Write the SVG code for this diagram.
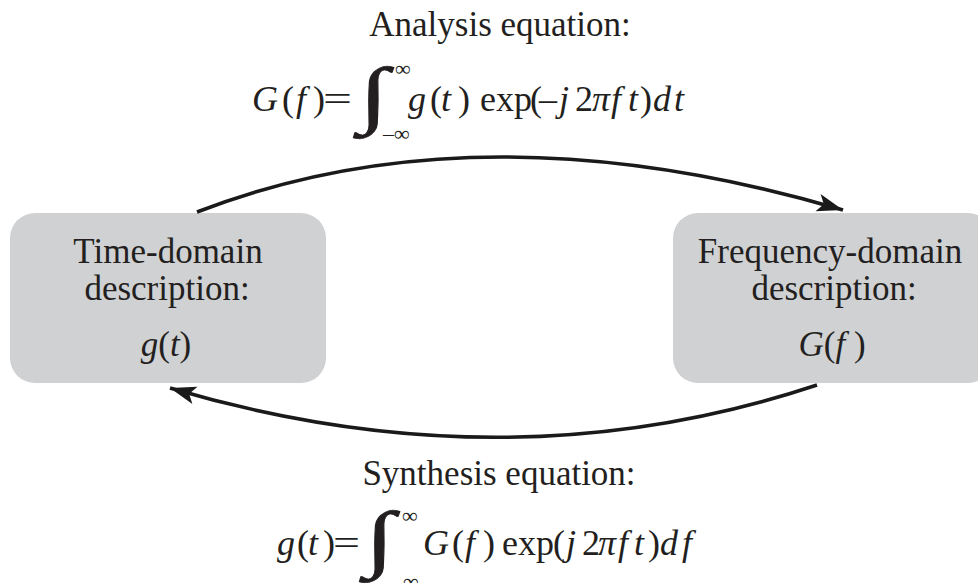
<svg xmlns="http://www.w3.org/2000/svg" width="978" height="583" viewBox="0 0 978 583">
<style>
.t{font-family:"Liberation Serif","Times New Roman",serif;fill:#231f20}
.lab{font-size:35px;text-anchor:middle}
.eq{font-size:36px}
.i{font-style:italic}
.sm{font-size:22px}
.int{font-size:74px;stroke:#231f20;stroke-width:0.8}
.box{fill:#d0d1d3}
.arc{fill:none;stroke:#1a1a1a;stroke-width:3.5}
</style>
<defs>
<marker id="ah" markerUnits="userSpaceOnUse" markerWidth="30" markerHeight="24" viewBox="0 0 30 24" refX="26" refY="12" orient="auto">
<path d="M0,3 L26,12 L0,21 L6,12 Z" fill="#1a1a1a"/>
</marker>
</defs>
<rect width="978" height="583" fill="#fff"/>
<g id="time-domain">
<rect class="box" x="10" y="213" width="316" height="170" rx="25"/>
<text class="t lab" x="168" y="263">Time-domain</text>
<text class="t lab" x="167" y="300">description:</text>
<text class="t lab" x="166" y="356"><tspan class="i">g</tspan>(<tspan class="i">t</tspan>)</text>
</g>
<g id="frequency-domain">
<rect class="box" x="673" y="213" width="320" height="170" rx="25"/>
<text class="t lab" x="830" y="263">Frequency-domain</text>
<text class="t lab" x="834" y="300">description:</text>
<text class="t lab" x="832" y="356"><tspan class="i">G</tspan>(<tspan class="i">f</tspan> )</text>
</g>
<g id="connectors">
<path class="arc" d="M197,212 Q479,103 843,210" marker-end="url(#ah)"/>
<path class="arc" d="M817,385 Q507,488 170,388" marker-end="url(#ah)"/>
</g>
<g id="analysis-label">
<text class="t lab" x="500" y="36">Analysis equation:</text>
<text class="t eq" y="111"><tspan x="252" class="i">G</tspan><tspan x="282">(</tspan><tspan x="296" class="i">f</tspan><tspan x="313">)</tspan><tspan x="408" class="i">g</tspan><tspan x="430">(</tspan><tspan x="441" class="i">t</tspan><tspan x="458">)</tspan><tspan x="480">exp</tspan><tspan x="530">(</tspan><tspan x="539">–</tspan><tspan x="559" class="i">j</tspan><tspan x="575">2</tspan><tspan x="592" class="i">π</tspan><tspan x="611" class="i">f</tspan><tspan x="628" class="i">t</tspan><tspan x="640">)</tspan><tspan x="653" class="i">d</tspan><tspan x="674" class="i">t</tspan></text>
<text class="t eq" x="323" y="111" textLength="29" lengthAdjust="spacingAndGlyphs">=</text>
<text class="t int" transform="translate(359,119) scale(1.45,1)">∫</text>
<text class="t sm" x="395" y="76">∞</text>
<text class="t sm" x="383" y="141">–∞</text>
</g>
<g id="synthesis-label">
<text class="t lab" x="499" y="485">Synthesis equation:</text>
<text class="t eq" y="555"><tspan x="277" class="i">g</tspan><tspan x="297">(</tspan><tspan x="308" class="i">t</tspan><tspan x="323">)</tspan><tspan x="423" class="i">G</tspan><tspan x="452">(</tspan><tspan x="465" class="i">f</tspan><tspan x="483">)</tspan><tspan x="502">exp</tspan><tspan x="553">(</tspan><tspan x="566" class="i">j</tspan><tspan x="582">2</tspan><tspan x="598" class="i">π</tspan><tspan x="618" class="i">f</tspan><tspan x="634" class="i">t</tspan><tspan x="648">)</tspan><tspan x="660" class="i">d</tspan><tspan x="682" class="i">f</tspan></text>
<text class="t eq" x="333" y="555" textLength="27" lengthAdjust="spacingAndGlyphs">=</text>
<text class="t int" transform="translate(365,563) scale(1.45,1)">∫</text>
<text class="t sm" x="402" y="523">∞</text>
<text class="t sm" x="392" y="589">–∞</text>
</g>
</svg>
